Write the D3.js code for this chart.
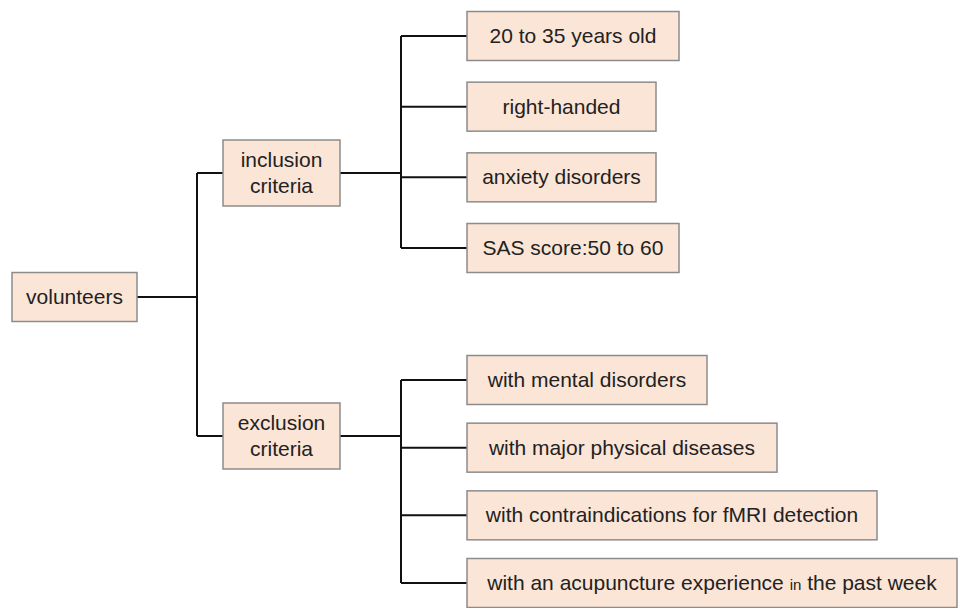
<!DOCTYPE html>
<html>
<head>
<meta charset="utf-8">
<script src="https://cdn.jsdelivr.net/npm/d3@7"></script>
<style>
  body { margin: 0; background: #fff; }
  svg { display: block; }
</style>
</head>
<body>
<div id="chart"></div>
<script>
// tree content
const rootLabel = ['volunteers'];
const groupLabels = [['inclusion', 'criteria'], ['exclusion', 'criteria']];
const inclusionItems = ['20 to 35 years old', 'right-handed', 'anxiety disorders', 'SAS score:50 to 60'];
const exclusionItems = [
    'with mental disorders',
    'with major physical diseases',
    'with contraindications for fMRI detection',
    'with an acupuncture experience in the past week'
];
const groupItems = [inclusionItems, exclusionItems];

const width = 958,
    height = 608;

// layout
const rootBox = { x: 12, w: 125, h: 49, y: 297 };
const groupBox = { x: 223, w: 117, h: 66 };
const groupY = d3.scalePoint().domain([0, 1]).range([173, 436]);
const leafX = 467,
    leafH = 49;
const leafY = [
    d3.scalePoint().domain(inclusionItems).range([36, 248]),
    d3.scalePoint().domain(exclusionItems).range([380, 583])
];
const leafW = [
    [212, 189, 189, 212],
    [240, 310, 410, 490]
];
const trunkX1 = 197,
    trunkX2 = 401;

const fill = '#fbe5d6',
    stroke = '#8c8c8c',
    lineColor = '#111',
    textColor = '#222';

const svg = d3
    .select('#chart')
    .append('svg')
    .attr('width', width)
    .attr('height', height)
    .style('font-family', '"Liberation Sans", Arial, sans-serif');

const links = svg.append('g').attr('stroke', lineColor).attr('stroke-width', 2).attr('fill', 'none');
const boxes = svg.append('g');

const drawBox = (x, cy, w, h, lines) => {
    boxes
        .append('rect')
        .attr('x', x)
        .attr('y', cy - h / 2)
        .attr('width', w)
        .attr('height', h)
        .attr('fill', fill)
        .attr('stroke', stroke)
        .attr('stroke-width', 1.5);
    const t = boxes
        .append('text')
        .attr('x', x + w / 2)
        .attr('text-anchor', 'middle')
        .attr('fill', textColor)
        .style('font-size', '21px');
    const lh = 26;
    lines.forEach((line, i) => {
        const ty = cy + (i - (lines.length - 1) / 2) * lh + 7;
        if (line.includes(' in ')) {
            // the small "in" from the original
            const parts = line.split(' in ');
            const ts = t.append('tspan').attr('x', x + w / 2).attr('y', ty);
            ts.append('tspan').text(parts[0] + ' ');
            ts.append('tspan').style('font-size', '15px').text('in');
            ts.append('tspan').text(' ' + parts[1]);
        } else {
            t.append('tspan').attr('x', x + w / 2).attr('y', ty).text(line);
        }
    });
};

// root
drawBox(rootBox.x, rootBox.y, rootBox.w, rootBox.h, rootLabel);
links
    .append('path')
    .attr('d', `M${rootBox.x + rootBox.w},${rootBox.y}H${trunkX1}`);
links
    .append('path')
    .attr('d', `M${trunkX1},${groupY(0)}V${groupY(1)}`);

groupLabels.forEach((lbl, g) => {
    const gy = groupY(g);
    links.append('path').attr('d', `M${trunkX1},${gy}H${groupBox.x}`);
    drawBox(groupBox.x, gy, groupBox.w, groupBox.h, lbl);
    links.append('path').attr('d', `M${groupBox.x + groupBox.w},${gy}H${trunkX2}`);

    const items = groupItems[g];
    const ys = items.map((d) => leafY[g](d));
    links.append('path').attr('d', `M${trunkX2},${d3.min(ys)}V${d3.max(ys)}`);
    items.forEach((d, i) => {
        const y = leafY[g](d);
        links.append('path').attr('d', `M${trunkX2},${y}H${leafX}`);
        drawBox(leafX, y, leafW[g][i], leafH, [d]);
    });
});
</script>
</body>
</html>
